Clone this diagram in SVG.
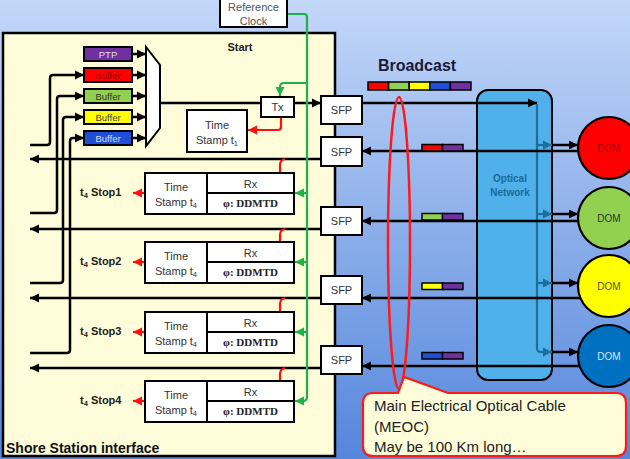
<svg xmlns="http://www.w3.org/2000/svg" width="630" height="459" viewBox="0 0 630 459">
<defs>
<linearGradient id="bg" x1="0" y1="0" x2="0" y2="1">
<stop offset="0" stop-color="#c3d7f8"/>
<stop offset="1" stop-color="#5586dc"/>
</linearGradient>
<marker id="ab" markerUnits="userSpaceOnUse" markerWidth="10" markerHeight="10" refX="9" refY="5" orient="auto"><path d="M0,0.5 L9,5 L0,9.5 z" fill="#000"/></marker>
<marker id="ag" markerUnits="userSpaceOnUse" markerWidth="10" markerHeight="10" refX="9" refY="5" orient="auto"><path d="M0,0.5 L9,5 L0,9.5 z" fill="#1fb24a"/></marker>
<marker id="ar" markerUnits="userSpaceOnUse" markerWidth="10" markerHeight="10" refX="9" refY="5" orient="auto"><path d="M0,0.5 L9,5 L0,9.5 z" fill="#ff1010"/></marker>
<marker id="at" markerUnits="userSpaceOnUse" markerWidth="10" markerHeight="10" refX="9" refY="5" orient="auto"><path d="M0,0.5 L9,5 L0,9.5 z" fill="#1d6e9c"/></marker>
</defs>
<style>
text{font-family:"Liberation Sans",Arial,sans-serif;}
.c{text-anchor:middle;}
.s11{font-size:11px;fill:#333;}
.b{font-weight:bold;}
.box{fill:#fff;stroke:#000;stroke-width:2;}
.k{fill:none;stroke:#000;stroke-width:2.5;marker-end:url(#ab);}
.kn{fill:none;stroke:#000;stroke-width:2.5;}
.g{fill:none;stroke:#1fb24a;stroke-width:2.2;}
.ga{fill:none;stroke:#1fb24a;stroke-width:2.2;marker-end:url(#ag);}
.r{fill:none;stroke:#ff1010;stroke-width:2.2;}
.ra{fill:none;stroke:#ff1010;stroke-width:2.2;marker-end:url(#ar);}
.tl{fill:none;stroke:#1d6e9c;stroke-width:2.2;}
.ta{fill:none;stroke:#1d6e9c;stroke-width:2.2;marker-end:url(#at);}
.buf{stroke:#000;stroke-width:2;}
.bt{font-size:9.5px;text-anchor:middle;}
.dd{font-family:"Liberation Serif","Times New Roman",serif;font-weight:bold;font-size:11px;text-anchor:middle;fill:#222;}
.stop{font-size:11px;font-weight:bold;fill:#222;}
.dom{stroke:#000;stroke-width:2.2;}
.dt{font-size:10px;text-anchor:middle;}
.bar{stroke:#000;stroke-width:1.5;}
</style>

<rect x="0" y="0" width="630" height="459" fill="url(#bg)"/>

<g id="shore-station">
<rect x="3" y="33" width="332" height="423" fill="#fefcd9" stroke="#000" stroke-width="2.5"/>
<text x="240" y="51" class="c b" font-size="11" fill="#222">Start</text>
<text x="6" y="453" class="b" font-size="14" fill="#111">Shore Station interface</text>
</g>

<g id="optical-network">
<rect x="477" y="90" width="75" height="290" rx="11" fill="#4fb0ea" stroke="#000" stroke-width="2"/>
<text x="510" y="182" class="c b" font-size="10" fill="#1a6a9a">Optical</text>
<text x="510" y="196" class="c b" font-size="10" fill="#1a6a9a">Network</text>
</g>

<g id="connectors">
<!-- buffer inputs -->
<path class="k" d="M30,145 H47 Q50,145 50,142 V78 Q50,75 53,75 H84"/>
<path class="k" d="M30,213 H54 Q57,213 57,210 V99 Q57,96 60,96 H84"/>
<path class="k" d="M30,283 H60 Q63,283 63,280 V120 Q63,117 66,117 H84"/>
<path class="k" d="M30,353 H67 Q70,353 70,350 V141 Q70,138 73,138 H84"/>
<!-- buffers to mux -->
<path class="k" d="M132,54 H146"/>
<path class="k" d="M132,75 H146"/>
<path class="k" d="M132,96 H146"/>
<path class="k" d="M132,117 H146"/>
<path class="k" d="M132,138 H146"/>
<!-- mux to Tx to SFP -->
<path class="kn" d="M160,103 H261"/>
<path class="k" d="M294,103 H321"/>
<!-- return lines to the left -->
<path class="k" d="M321,159 H30"/>
<path class="k" d="M321,229 H30"/>
<path class="k" d="M321,298 H30"/>
<path class="k" d="M321,368 H30"/>
<!-- broadcast -->
<path class="k" d="M362,103 H537"/>
<path class="tl" d="M537,104 V348 Q537,352 541,352"/>
<path class="ta" d="M537,145 H552"/>
<path class="ta" d="M537,214 H552"/>
<path class="ta" d="M537,283 H552"/>
<path class="ta" d="M540,352 H552"/>
<path class="k" d="M552,145 H578"/>
<path class="k" d="M552,214 H578"/>
<path class="k" d="M552,283 H578"/>
<path class="k" d="M552,352 H578"/>
<!-- DOM returns -->
<path class="k" d="M579,151 H362"/>
<path class="k" d="M579,221 H362"/>
<path class="k" d="M580,298 H362"/>
<path class="k" d="M579,366 H362"/>
<!-- reference clock green -->
<path class="ga" d="M287,14 H304 Q307,14 307,17 V397 Q307,401 303,401 H295"/>
<path class="ga" d="M307,83 H284 Q280,83 280,87 V96"/>
<path class="ga" d="M307,193 H295"/>
<path class="ga" d="M307,262 H295"/>
<path class="ga" d="M307,332 H295"/>
<!-- red -->
<path class="ra" d="M281,117 V127 Q281,130 278,130 H248"/>
<path class="r" d="M285,159 Q280,160 280,165 V173"/>
<path class="r" d="M285,229 Q280,230 280,235 V242"/>
<path class="r" d="M285,298 Q280,299 280,304 V312"/>
<path class="r" d="M285,368 Q280,369 280,374 V381"/>
<path class="ra" d="M145,193 H133"/>
<path class="ra" d="M145,262 H133"/>
<path class="ra" d="M145,332 H133"/>
<path class="ra" d="M145,401 H133"/>
</g>

<g id="reference-clock">
<rect x="220" y="-2" width="67" height="29" class="box"/>
<text x="253.5" y="11" class="c" font-size="11" fill="#555">Reference</text>
<text x="253.5" y="25" class="c" font-size="11" fill="#555">Clock</text>
</g>

<g id="ptp"><rect x="84" y="47" width="48" height="14" fill="#7030a0" class="buf"/><text x="108" y="57.5" class="bt" fill="#e6dcef">PTP</text></g>
<g id="buffer-red"><rect x="84" y="68" width="48" height="14" fill="#ff0000" class="buf"/><text x="108" y="78.5" class="bt" fill="#9a0000">Buffer</text></g>
<g id="buffer-green"><rect x="84" y="89" width="48" height="14" fill="#92d050" class="buf"/><text x="108" y="99.5" class="bt" fill="#333">Buffer</text></g>
<g id="buffer-yellow"><rect x="84" y="110" width="48" height="14" fill="#ffff00" class="buf"/><text x="108" y="120.5" class="bt" fill="#444">Buffer</text></g>
<g id="buffer-blue"><rect x="84" y="131" width="48" height="14" fill="#1f4fd8" class="buf"/><text x="108" y="141.5" class="bt" fill="#dde">Buffer</text></g>

<g id="mux"><path d="M146,47 L160,65 L160,128 L146,146 Z" fill="#fff" stroke="#000" stroke-width="2"/></g>

<g id="tx"><rect x="261" y="97" width="33" height="20" class="box"/><text x="277.5" y="111" class="c s11">Tx</text></g>

<g id="timestamp-t1">
<rect x="187" y="110" width="60" height="42" class="box"/>
<text x="217" y="129" class="c s11">Time</text>
<text x="217" y="144" class="c s11">Stamp t<tspan font-size="7.5" dy="2">1</tspan></text>
</g>

<g id="rx1">
<rect x="145" y="173" width="149" height="41" class="box" stroke-width="2.5"/>
<path d="M207,173 V214 M207,193 H294" stroke="#000" stroke-width="2"/>
<text x="176" y="191" class="c s11">Time</text>
<text x="176" y="206" class="c s11">Stamp t<tspan font-size="7.5" dy="2">4</tspan></text>
<text x="250.5" y="188" class="c s11">Rx</text>
<text x="250.5" y="207" class="dd">φ: DDMTD</text>
<text x="80" y="196" class="stop">t<tspan font-size="7.5" dy="2">4</tspan><tspan dy="-2"> Stop1</tspan></text>
</g>
<g id="rx2">
<rect x="145" y="242" width="149" height="41" class="box" stroke-width="2.5"/>
<path d="M207,242 V283 M207,262 H294" stroke="#000" stroke-width="2"/>
<text x="176" y="260" class="c s11">Time</text>
<text x="176" y="275" class="c s11">Stamp t<tspan font-size="7.5" dy="2">4</tspan></text>
<text x="250.5" y="257" class="c s11">Rx</text>
<text x="250.5" y="276" class="dd">φ: DDMTD</text>
<text x="80" y="265" class="stop">t<tspan font-size="7.5" dy="2">4</tspan><tspan dy="-2"> Stop2</tspan></text>
</g>
<g id="rx3">
<rect x="145" y="312" width="149" height="41" class="box" stroke-width="2.5"/>
<path d="M207,312 V353 M207,332 H294" stroke="#000" stroke-width="2"/>
<text x="176" y="330" class="c s11">Time</text>
<text x="176" y="345" class="c s11">Stamp t<tspan font-size="7.5" dy="2">4</tspan></text>
<text x="250.5" y="327" class="c s11">Rx</text>
<text x="250.5" y="346" class="dd">φ: DDMTD</text>
<text x="80" y="335" class="stop">t<tspan font-size="7.5" dy="2">4</tspan><tspan dy="-2"> Stop3</tspan></text>
</g>
<g id="rx4">
<rect x="145" y="381" width="149" height="41" class="box" stroke-width="2.5"/>
<path d="M207,381 V422 M207,401 H294" stroke="#000" stroke-width="2"/>
<text x="176" y="399" class="c s11">Time</text>
<text x="176" y="414" class="c s11">Stamp t<tspan font-size="7.5" dy="2">4</tspan></text>
<text x="250.5" y="396" class="c s11">Rx</text>
<text x="250.5" y="415" class="dd">φ: DDMTD</text>
<text x="80" y="404" class="stop">t<tspan font-size="7.5" dy="2">4</tspan><tspan dy="-2"> Stop4</tspan></text>
</g>

<g id="sfp1"><rect x="321" y="96" width="41" height="28" class="box"/><text x="341.5" y="114" class="c s11">SFP</text></g>
<g id="sfp2"><rect x="321" y="137" width="41" height="29" class="box"/><text x="341.5" y="155.5" class="c s11">SFP</text></g>
<g id="sfp3"><rect x="321" y="207" width="41" height="28" class="box"/><text x="341.5" y="225" class="c s11">SFP</text></g>
<g id="sfp4"><rect x="321" y="276" width="41" height="28" class="box"/><text x="341.5" y="294" class="c s11">SFP</text></g>
<g id="sfp5"><rect x="321" y="346" width="41" height="28" class="box"/><text x="341.5" y="364" class="c s11">SFP</text></g>

<g id="broadcast">
<text x="417" y="71" class="c b" font-size="16" fill="#1b1b3b">Broadcast</text>
<rect x="368" y="82" width="20.6" height="8" fill="#ff0000" class="bar"/>
<rect x="388.6" y="82" width="20.6" height="8" fill="#92d050" class="bar"/>
<rect x="409.2" y="82" width="20.6" height="8" fill="#ffff00" class="bar"/>
<rect x="429.8" y="82" width="20.6" height="8" fill="#1f4fd8" class="bar"/>
<rect x="450.4" y="82" width="20.6" height="8" fill="#7030a0" class="bar"/>
</g>

<g id="bars">
<rect x="422" y="144.5" width="20.5" height="6.5" fill="#ff0000" class="bar"/><rect x="442.5" y="144.5" width="20.5" height="6.5" fill="#7030a0" class="bar"/>
<rect x="422" y="213.5" width="20.5" height="6.5" fill="#92d050" class="bar"/><rect x="442.5" y="213.5" width="20.5" height="6.5" fill="#7030a0" class="bar"/>
<rect x="422" y="283" width="20.5" height="6.5" fill="#ffff00" class="bar"/><rect x="442.5" y="283" width="20.5" height="6.5" fill="#7030a0" class="bar"/>
<rect x="422" y="352.5" width="20.5" height="6.5" fill="#1f4fd8" class="bar"/><rect x="442.5" y="352.5" width="20.5" height="6.5" fill="#7030a0" class="bar"/>
</g>

<g id="dom-red"><circle cx="609" cy="148" r="31" fill="#ff0000" class="dom"/><text x="609" y="152" class="dt" fill="#a00000">DOM</text></g>
<g id="dom-green"><circle cx="609" cy="218" r="31" fill="#92d050" class="dom"/><text x="609" y="222" class="dt" fill="#2a3a2a">DOM</text></g>
<g id="dom-yellow"><circle cx="609" cy="286" r="31" fill="#ffff00" class="dom"/><text x="609" y="290" class="dt" fill="#555520">DOM</text></g>
<g id="dom-blue"><circle cx="609" cy="356" r="31" fill="#0070c0" class="dom"/><text x="609" y="360" class="dt" fill="#d6e6f6">DOM</text></g>

<g id="meoc">
<ellipse cx="399" cy="243" rx="11" ry="146" fill="none" stroke="#ff1a1a" stroke-width="2.5"/>
<path d="M373,393 H398 L404,377 L448,393 H616 Q626,393 626,403 V446 Q626,456 616,456 H373 Q363,456 363,446 V403 Q363,393 373,393 Z" fill="#fefcd9" stroke="#ff1a1a" stroke-width="2.2"/>
<text x="374" y="411" font-size="15" fill="#222">Main Electrical Optical Cable</text>
<text x="374" y="432" font-size="15" fill="#222">(MEOC)</text>
<text x="374" y="452" font-size="15" fill="#222">May be 100 Km long…</text>
</g>
</svg>
